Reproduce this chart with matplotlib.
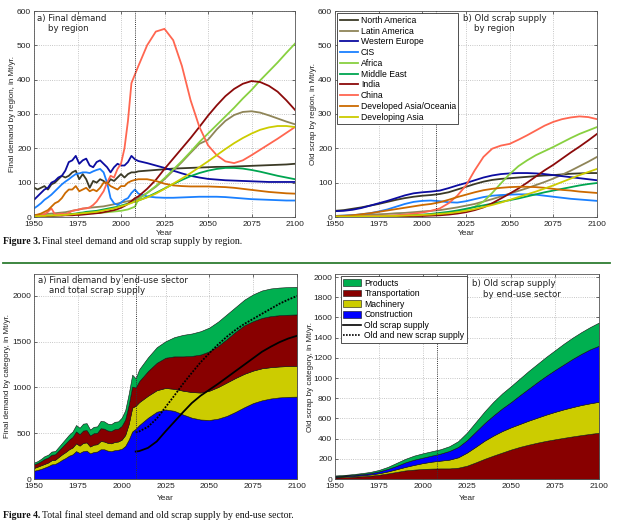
import matplotlib
matplotlib.use('Agg')
import matplotlib.pyplot as plt
from matplotlib.lines import Line2D
from matplotlib.patches import Patch

# ---------------- data ----------------
hist_years = list(range(1950, 2009, 2))      # 30 points
proj_years = list(range(2010, 2101, 5))      # 19 points
years = hist_years + proj_years

regions = ['North America', 'Latin America', 'Western Europe', 'CIS', 'Africa',
           'Middle East', 'India', 'China', 'Developed Asia/Oceania', 'Developing Asia']
region_colors = ['#3b3a26', '#8f8558', '#0c0ca0', '#1a80ff', '#88d040',
                 '#00a550', '#8b0a0a', '#ff6650', '#cc6a00', '#cccc00']

# final demand by region, Mt/yr
na_demand = [86, 80, 85, 90, 80, 95, 100, 110, 120, 115, 120, 130, 135, 110, 125, 110, 85, 105, 100, 110,
             105, 95, 110, 105, 115, 125, 115, 125, 130, 130] + \
            [133, 135, 137, 139, 141, 142, 143, 144, 145, 146, 146, 147, 148, 149, 150, 151, 152, 153, 155]
la_demand = [5, 6, 7, 8, 9, 10, 11, 12, 13, 14, 16, 18, 20, 22, 24, 26, 27, 28, 29, 30,
             31, 33, 35, 37, 39, 42, 44, 46, 48, 50] + \
            [55, 70, 88, 110, 135, 160, 187, 213, 225, 255, 280, 297, 306, 308, 304, 296, 287, 278, 270]
we_demand = [50, 60, 70, 80, 85, 100, 105, 115, 120, 135, 160, 165, 178, 155, 165, 170, 150, 145, 160, 165,
             155, 145, 130, 145, 155, 150, 150, 160, 178, 168] + \
            [163, 157, 150, 143, 135, 127, 120, 115, 111, 109, 107, 106, 105, 104, 103, 102, 102, 102, 102]
cis_demand = [25, 32, 40, 50, 57, 65, 75, 85, 95, 103, 110, 118, 125, 127, 130, 130, 128, 133, 137, 140,
              130, 100, 55, 40, 35, 42, 50, 55, 70, 80] + \
             [68, 60, 57, 56, 56, 57, 58, 59, 59, 59, 58, 56, 54, 52, 51, 50, 49, 48, 48]
africa_demand = [3, 3, 4, 4, 5, 5, 6, 6, 7, 7, 8, 8, 9, 9, 10, 10, 11, 11, 12, 12,
                 13, 14, 15, 16, 17, 18, 20, 22, 26, 30] + \
                [52, 70, 90, 113, 138, 163, 190, 218, 243, 268, 293, 318, 345, 370, 398, 424, 450, 478, 505]
me_demand = [1, 1, 2, 2, 3, 3, 4, 5, 6, 7, 8, 9, 10, 12, 13, 15, 16, 17, 18, 20,
             22, 24, 26, 28, 30, 33, 36, 39, 42, 45] + \
            [48, 58, 70, 83, 96, 108, 119, 128, 135, 140, 143, 143, 141, 137, 132, 126, 120, 115, 110]
india_demand = [1, 1, 2, 2, 3, 3, 4, 4, 4, 5, 5, 5, 6, 6, 7, 8, 9, 10, 11, 12,
                14, 16, 18, 20, 23, 27, 32, 38, 46, 55] + \
               [60, 82, 108, 140, 170, 200, 230, 262, 295, 325, 352, 373, 388, 396, 393, 382, 365, 340, 312]
china_demand = [1, 3, 5, 8, 15, 25, 8, 8, 10, 8, 12, 18, 20, 22, 25, 25, 28, 35, 45, 60,
                75, 100, 120, 115, 140, 155, 200, 280, 390, 415] + \
               [440, 500, 540, 548, 515, 440, 340, 263, 209, 180, 162, 157, 165, 180, 196, 212, 228, 245, 262]
dao_demand = [5, 7, 10, 15, 20, 30, 40, 45, 55, 70, 80, 80, 90, 75, 80, 85, 75, 80, 75, 85,
              100, 100, 90, 85, 80, 90, 90, 100, 105, 108] + \
             [110, 110, 105, 97, 92, 90, 89, 89, 89, 88, 87, 85, 82, 79, 76, 73, 71, 69, 68]
da_demand = [2, 2, 3, 3, 4, 4, 5, 5, 6, 6, 7, 8, 9, 10, 11, 12, 13, 14, 15, 17,
             19, 21, 23, 25, 28, 31, 34, 37, 41, 45] + \
            [48, 57, 68, 82, 97, 112, 128, 145, 162, 180, 198, 215, 230, 243, 254, 261, 265, 265, 262]
demand_by_region = [na_demand, la_demand, we_demand, cis_demand, africa_demand,
                    me_demand, india_demand, china_demand, dao_demand, da_demand]

# old scrap supply by region, Mt/yr
scrap_years = list(range(1950, 2101, 5))
na_scrap = [18, 20, 24, 28, 33, 38, 44, 50, 55, 59, 62, 64, 67, 72, 80, 88, 96, 103, 108, 111, 113,
            115, 117, 119, 121, 122, 124, 126, 127, 128, 128]
la_scrap = [3, 4, 5, 6, 7, 8, 9, 11, 12, 14, 16, 18, 20, 24, 28, 33, 38, 45, 52, 60, 68,
            76, 84, 93, 102, 112, 123, 135, 148, 161, 175]
we_scrap = [17, 18, 21, 26, 33, 40, 47, 55, 63, 69, 72, 74, 77, 84, 92, 99, 107, 115, 121, 125, 127,
            128, 128, 127, 125, 122, 119, 116, 113, 110, 107]
cis_scrap = [3, 4, 5, 8, 11, 16, 22, 30, 38, 44, 47, 48, 46, 43, 42, 46, 52, 58, 62, 64, 65,
             66, 66, 65, 62, 59, 56, 53, 51, 49, 47]
africa_scrap = [1, 1, 1, 2, 2, 2, 3, 3, 4, 4, 5, 6, 8, 11, 16, 22, 30, 45, 70, 98, 125,
                148, 165, 180, 192, 204, 217, 230, 242, 252, 262]
me_scrap = [1, 1, 1, 2, 2, 3, 3, 4, 5, 6, 7, 9, 12, 15, 19, 24, 29, 34, 39, 44, 49,
            54, 60, 66, 72, 77, 82, 87, 92, 96, 99]
india_scrap = [0, 0, 0, 1, 1, 1, 1, 2, 2, 3, 3, 4, 5, 7, 10, 14, 20, 28, 40, 54, 68,
               83, 100, 118, 136, 152, 170, 188, 205, 223, 242]
china_scrap = [1, 1, 2, 2, 3, 3, 4, 5, 7, 10, 13, 18, 25, 40, 62, 92, 136, 175, 199, 208, 213,
               225, 238, 252, 266, 277, 285, 290, 293, 291, 285]
dao_scrap = [2, 3, 5, 8, 11, 15, 19, 23, 27, 31, 35, 38, 43, 50, 58, 65, 72, 78, 82, 85, 87,
             88, 88, 87, 85, 82, 79, 77, 74, 72, 70]
da_scrap = [1, 1, 1, 2, 2, 2, 3, 3, 4, 5, 6, 7, 9, 11, 14, 18, 23, 29, 35, 42, 50,
            58, 66, 74, 83, 92, 102, 112, 122, 131, 140]
scrap_by_region = [na_scrap, la_scrap, we_scrap, cis_scrap, africa_scrap,
                   me_scrap, india_scrap, china_scrap, dao_scrap, da_scrap]

# final demand by end-use sector, Mt/yr (layer values)
construction_demand = [90, 100, 110, 125, 140, 160, 165, 185, 210, 230, 255, 270, 305, 285, 305, 310, 280, 295, 300, 325,
                       325, 310, 305, 315, 320, 330, 360, 430, 520, 550] + \
                      [590, 670, 735, 760, 745, 705, 670, 650, 645, 660, 690, 735, 785, 830, 860, 880, 892, 898, 900]
machinery_demand = [30, 35, 40, 40, 40, 45, 45, 55, 60, 65, 70, 75, 85, 80, 90, 90, 75, 80, 80, 90,
                    85, 85, 85, 90, 90, 100, 120, 170, 260, 250] + \
                   [250, 240, 235, 235, 240, 260, 280, 295, 320, 345, 365, 370, 365, 355, 350, 342, 338, 336, 337]
transport_demand = [40, 40, 45, 55, 55, 60, 60, 70, 80, 95, 105, 115, 130, 125, 135, 135, 120, 125, 125, 140,
                    140, 135, 135, 140, 140, 150, 170, 210, 230, 200] + \
                   [230, 270, 300, 330, 355, 375, 395, 415, 430, 450, 475, 505, 530, 540, 550, 558, 560, 561, 561]
products_demand = [20, 20, 25, 30, 30, 35, 35, 40, 45, 50, 55, 60, 70, 70, 75, 75, 65, 70, 70, 80,
                   80, 75, 75, 80, 80, 90, 100, 120, 130, 100] + \
                  [130, 150, 170, 180, 210, 235, 245, 255, 260, 265, 270, 270, 280, 293, 300, 302, 302, 302, 302]

# total scrap supply lines (from 2008)
supply_years = [2008] + proj_years
old_scrap_total = [300, 305, 340, 410, 520, 625, 730, 830, 910, 975, 1040, 1110, 1180, 1250, 1320,
                   1390, 1445, 1495, 1535, 1565]
old_new_scrap_total = [510, 520, 570, 660, 785, 910, 1040, 1160, 1275, 1375, 1470, 1555, 1630, 1695, 1750,
                       1805, 1860, 1915, 1960, 2000]

# old scrap by end-use sector, Mt/yr (layer values, stacked bottom to top)
transport_scrap = [15, 18, 22, 27, 33, 42, 55, 70, 85, 93, 100, 103, 105, 105, 112, 132, 165, 200, 232, 262, 292,
                   318, 340, 360, 378, 393, 408, 422, 435, 447, 458]
machinery_scrap = [7, 8, 9, 10, 12, 15, 20, 27, 35, 47, 58, 69, 77, 87, 103, 130, 155, 180, 198, 213, 220,
                   227, 238, 248, 260, 272, 282, 290, 298, 303, 307]
construction_scrap = [6, 7, 9, 11, 13, 18, 25, 33, 45, 52, 54, 60, 70, 86, 103, 123, 150, 175, 200, 225, 250,
                      285, 317, 352, 384, 415, 445, 478, 507, 535, 555]
products_scrap = [7, 7, 8, 10, 12, 15, 20, 30, 35, 40, 43, 43, 43, 47, 57, 75, 95, 115, 135, 148, 158,
                  165, 175, 180, 188, 195, 205, 210, 215, 220, 230]

c_prod, c_trans, c_mach, c_cons = '#00b050', '#880000', '#cccc00', '#0000ff'

# ---------------- figure ----------------
W, H = 620, 523
fig = plt.figure(figsize=(6.2, 5.23), dpi=100)
fig.patch.set_facecolor('white')

TICKFONT = 'Liberation Sans'
LABFONT = 'DejaVu Sans'


def box(l, t, r, b):
    return [l / W, 1 - b / H, (r - l) / W, (b - t) / H]


def style(ax, ylim, yticks, ylabel, ylab_x, xlab_y):
    ax.set_xlim(1950, 2100)
    ax.set_xticks(range(1950, 2101, 25))
    ax.set_ylim(*ylim)
    ax.set_yticks(yticks)
    ax.grid(True, ls=':', color='#b4b4b4', lw=0.6)
    ax.set_axisbelow(True)
    ax.tick_params(direction='in', length=2, width=0.5, labelsize=6, pad=2,
                   top=True, right=True, colors='#333333', labelcolor='#222222')
    ax.tick_params(axis='x', pad=3)
    for lab in ax.get_xticklabels() + ax.get_yticklabels():
        lab.set_family(TICKFONT)
    for s in ax.spines.values():
        s.set_color('#555555')
        s.set_linewidth(0.6)
    ax.set_ylabel(ylabel, fontsize=5.8, family=TICKFONT, color='#222222')
    ax.yaxis.set_label_coords(ylab_x, 0.5)
    ax.set_xlabel('Year', fontsize=6, family=TICKFONT, color='#222222')
    ax.xaxis.set_label_coords(0.5, xlab_y)
    ax.axvline(2008, color='#333333', ls=(0, (1, 1.2)), lw=0.7, zorder=5)


# --- Figure 3a
ax1 = fig.add_axes(box(34, 11, 295, 217))
for vals, col in zip(demand_by_region, region_colors):
    ax1.plot(years, vals, color=col, lw=1.3)
style(ax1, (0, 600), range(0, 601, 100), 'Final demand by region, in Mt/yr.', -0.068, -0.065)
ax1.text(0.01, 0.985, 'a) Final demand\n    by region', transform=ax1.transAxes, va='top', ha='left',
         fontsize=6.2, family=LABFONT, color='#222222')

# --- Figure 3b
ax2 = fig.add_axes(box(335, 11, 597, 217))
for vals, col, name in zip(scrap_by_region, region_colors, regions):
    ax2.plot(scrap_years, vals, color=col, lw=1.3, label=name)
style(ax2, (0, 600), range(0, 601, 100), 'Old scrap by region, in Mt/yr.', -0.07, -0.065)
ax2.text(0.487, 0.985, 'b) Old scrap supply\n    by region', transform=ax2.transAxes, va='top', ha='left',
         fontsize=6.2, family=LABFONT, color='#222222')
leg = ax2.legend(loc='upper left', bbox_to_anchor=(0.008, 0.988), borderaxespad=0,
                 prop={'family': TICKFONT, 'size': 6.2}, fancybox=False, framealpha=1,
                 edgecolor='#333333', handlelength=2.1, handletextpad=0.35, labelspacing=0.2,
                 borderpad=0.3)
leg.get_frame().set_linewidth(0.6)

# --- Figure 4a
ax3 = fig.add_axes(box(34, 274, 297, 479))
ax3.stackplot(years, construction_demand, machinery_demand, transport_demand, products_demand,
              colors=[c_cons, c_mach, c_trans, c_prod], edgecolor='#111111', linewidth=0.4)
ax3.plot(supply_years, old_scrap_total, color='black', lw=1.3, zorder=4)
ax3.plot(supply_years, old_new_scrap_total, color='black', lw=1.3, ls=(0, (1, 0.8)), zorder=4)
style(ax3, (0, 2240), range(0, 2001, 500), 'Final demand by category, in Mt/yr.', -0.088, -0.078)
ax3.text(0.016, 0.99, 'a) Final demand by end-use sector\n    and total scrap supply', transform=ax3.transAxes,
         va='top', ha='left', fontsize=6.2, family=LABFONT, color='#222222')

# --- Figure 4b
ax4 = fig.add_axes(box(335, 274, 599, 479))
ax4.stackplot(scrap_years, transport_scrap, machinery_scrap, construction_scrap, products_scrap,
              colors=[c_trans, c_mach, c_cons, c_prod], edgecolor='#111111', linewidth=0.4)
style(ax4, (0, 2030), range(0, 2001, 200), 'Old scrap by category, in Mt/yr.', -0.08, -0.078)
ax4.text(0.52, 0.975, 'b) Old scrap supply\n    by end-use sector', transform=ax4.transAxes,
         va='top', ha='left', fontsize=6.2, family=LABFONT, color='#222222')
handles = [Patch(facecolor=c_prod, edgecolor='#111111', lw=0.4, label='Products'),
           Patch(facecolor=c_trans, edgecolor='#111111', lw=0.4, label='Transportation'),
           Patch(facecolor=c_mach, edgecolor='#111111', lw=0.4, label='Machinery'),
           Patch(facecolor=c_cons, edgecolor='#111111', lw=0.4, label='Construction'),
           Line2D([], [], color='black', lw=1.2, label='Old scrap supply'),
           Line2D([], [], color='black', lw=1.2, ls=(0, (1, 0.8)), label='Old and new scrap supply')]
leg2 = ax4.legend(handles=handles, loc='upper left', bbox_to_anchor=(0.022, 0.99), borderaxespad=0,
                  prop={'family': TICKFONT, 'size': 6.2}, fancybox=False, framealpha=1,
                  edgecolor='#333333', handlelength=2.1, handleheight=0.8, handletextpad=0.35,
                  labelspacing=0.18, borderpad=0.3)
leg2.get_frame().set_linewidth(0.6)

# --- captions
renderer = fig.canvas.get_renderer()


def caption(y, bold, rest):
    t = fig.text(3 / W, 1 - y / H, bold, fontsize=7, family='Liberation Serif', weight='bold',
                 va='center', ha='left', color='#111111')
    ext = t.get_window_extent(renderer)
    fig.text((ext.x1 + 2) / W, 1 - y / H, rest, fontsize=7, family='Liberation Serif',
             va='center', ha='left', color='#111111')


caption(242, 'Figure 3.', 'Final steel demand and old scrap supply by region.')
caption(515, 'Figure 4.', 'Total final steel demand and old scrap supply by end-use sector.')
fig.add_artist(Line2D([3 / W, 610 / W], [1 - 263 / H, 1 - 263 / H], color='#2e7d32', lw=1.3))

fig.savefig('out.png', dpi=100, facecolor='white')
